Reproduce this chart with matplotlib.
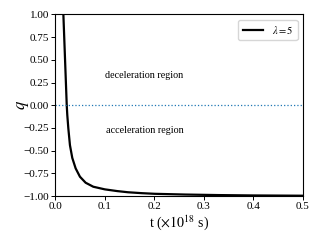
import matplotlib
matplotlib.use("Agg")
import matplotlib.pyplot as plt

plt.rcParams["font.family"] = ["Liberation Serif", "DejaVu Serif"]
plt.rcParams["mathtext.fontset"] = "stix"

# values (lambda = 5)
t_vals = [0.0155, 0.0162, 0.0179, 0.0196, 0.0213, 0.0230, 0.0241, 0.0262,
          0.0295, 0.0342, 0.0410, 0.0497, 0.0612, 0.0766, 0.1000, 0.1250,
          0.1470, 0.1750, 0.2010, 0.2620, 0.3300, 0.4000, 0.5000]
q_vals = [1.08, 1.00, 0.75, 0.50, 0.25, 0.00, -0.107, -0.254,
          -0.44, -0.58, -0.695, -0.787, -0.853, -0.897, -0.926, -0.945,
          -0.958, -0.968, -0.975, -0.983, -0.989, -0.993, -0.996]
line_label = r"$\lambda = 5$"
region_labels = ["deceleration region", "acceleration region"]
x_ticks = [0.0, 0.1, 0.2, 0.3, 0.4, 0.5]
y_ticks = [-1.00, -0.75, -0.50, -0.25, 0.00, 0.25, 0.50, 0.75, 1.00]

fig = plt.figure(figsize=(3.2, 2.4), dpi=100)
ax = fig.add_axes([0.173, 0.183, 0.773, 0.757])

ax.plot(t_vals, q_vals, color="black", lw=1.6, label=line_label)
ax.axhline(0.0, color="#1f77b4", ls=":", lw=0.9)

ax.text(0.18, 0.33, region_labels[0], ha="center", va="center", fontsize=7.3)
ax.text(0.18, -0.28, region_labels[1], ha="center", va="center", fontsize=7.3)

ax.set_xlim(0.0, 0.5)
ax.set_ylim(-1.0, 1.0)
ax.set_xticks(x_ticks)
ax.set_yticks(y_ticks)
ax.set_xticklabels([f"{v:.1f}" for v in x_ticks])
ax.set_yticklabels([f"{v:.2f}".replace("-", "\u2212") for v in y_ticks])
ax.tick_params(labelsize=8, length=3, width=0.7, pad=1.5)
for sp in ax.spines.values():
    sp.set_linewidth(0.8)

ax.set_xlabel(r"t ($\times 10^{18}$ s)", fontsize=10, labelpad=1)
ax.set_ylabel(r"$q$", fontsize=12)
ax.yaxis.set_label_coords(-0.10, 0.5)

ax.legend(loc="upper right", fontsize=7.5, handlelength=2.0, borderpad=0.4)

fig.savefig("out.png", dpi=100)
